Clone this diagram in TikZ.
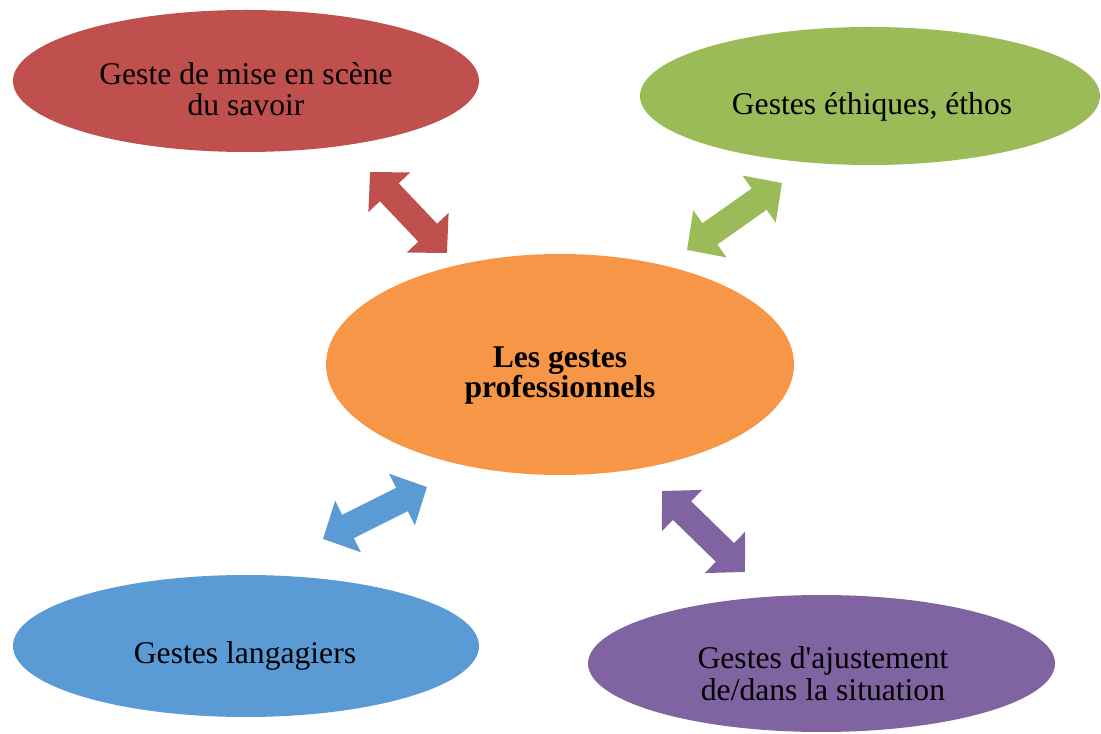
\documentclass[tikz,border=0pt]{standalone}
\usepackage{fontspec}
\setmainfont{Liberation Serif}
\usetikzlibrary{arrows.meta,shapes.geometric}

\definecolor{gred}{HTML}{C0504D}
\definecolor{ggreen}{HTML}{9BBB59}
\definecolor{gorange}{HTML}{F79646}
\definecolor{gblue}{HTML}{5B9BD5}
\definecolor{gpurple}{HTML}{8064A2}

\begin{document}
\begin{tikzpicture}
\tikzset{ >={Triangle[length=0.56cm, width=1.12cm]}, inner sep=0pt, outer sep=0pt,
  blob/.style={ellipse, draw=none},
  txt/.style={align=center, font=\fontsize{18}{18}\selectfont},
  arr/.style={<->, line width=0.52cm},
}
\useasboundingbox (0,0) rectangle (22.02,14.66);

\node [blob, fill=gred,    minimum width=9.32cm, minimum height=2.84cm] (S) at (4.92,13.04) {};
\node [blob, fill=ggreen,  minimum width=9.20cm, minimum height=2.76cm] (E) at (17.40,12.74) {};
\node [blob, fill=gorange, minimum width=9.36cm, minimum height=4.42cm] (P) at (11.20,7.37) {};
\node [blob, fill=gblue,   minimum width=9.32cm, minimum height=2.84cm] (L) at (4.92,1.74) {};
\node [blob, fill=gpurple, minimum width=9.34cm, minimum height=2.74cm] (A) at (16.43,1.39) {};

\node [txt] (St) at (4.92,12.88) {Geste de mise en scène\\du savoir};
\node [txt, anchor=base] (Et) at (17.44,12.36) {Gestes éthiques, éthos};
\node [txt, font=\fontsize{18}{17.5}\selectfont\bfseries] (Pt) at (11.20,7.15) {Les gestes\\professionnels};
\node [txt, anchor=base] (Lt) at (4.90,1.40) {Gestes langagiers};
\node [txt] (At) at (16.46,1.19) {Gestes d\textquotesingle ajustement\\de/dans la situation};

\coordinate (S1) at (7.40,11.22);
\coordinate (S2) at (8.94,9.60);
\coordinate (E1) at (15.64,11.00);
\coordinate (E2) at (13.74,9.66);
\coordinate (L1) at (8.54,4.92);
\coordinate (L2) at (6.46,3.88);
\coordinate (A1) at (13.24,4.84);
\coordinate (A2) at (14.90,3.22);

\draw [arr, gred]    (S1) -- (S2);
\draw [arr, ggreen]  (E1) -- (E2);
\draw [arr, gblue]   (L1) -- (L2);
\draw [arr, gpurple] (A1) -- (A2);

\end{tikzpicture}
\end{document}
